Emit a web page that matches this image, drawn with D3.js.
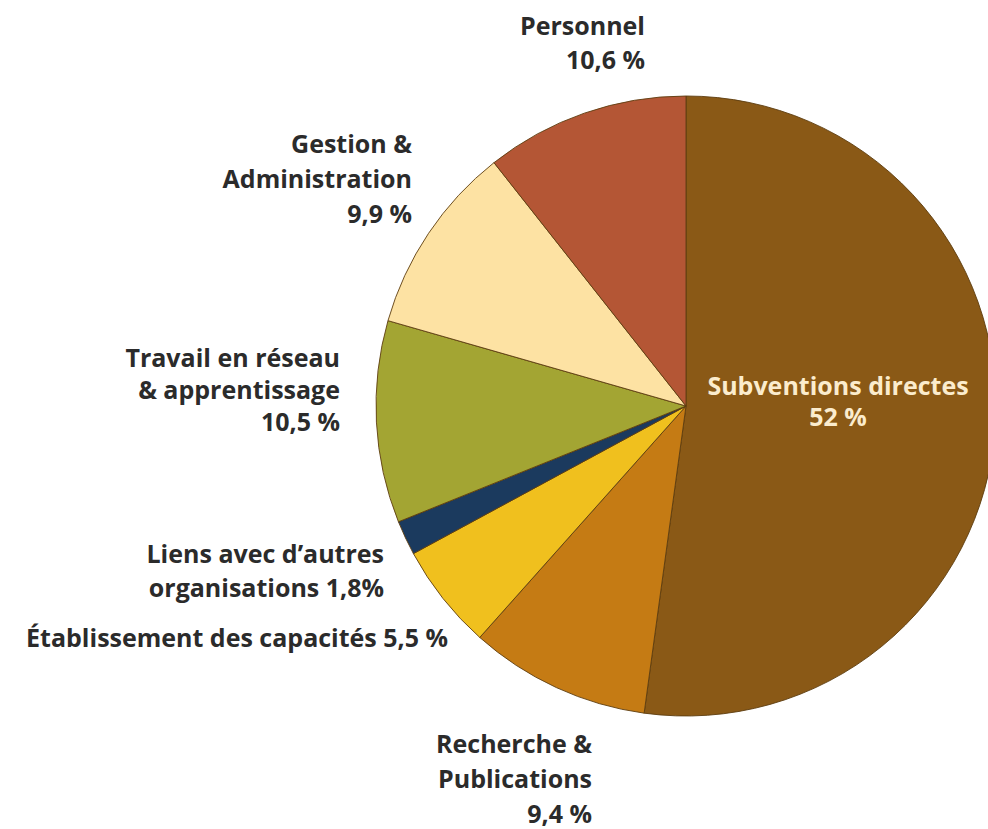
<!DOCTYPE html>
<html>
<head>
<meta charset="utf-8">
<script src="https://cdn.jsdelivr.net/npm/d3@7"></script>
<style>
  html, body { margin: 0; padding: 0; background: #ffffff; }
  svg { display: block; }
  text { font-family: "Open Sans", Lato, sans-serif; font-weight: bold; }
</style>
</head>
<body>
<svg id="chart" width="988" height="829"></svg>
<script>
// Data (clockwise from 12 o'clock)
const categories = [
  "Subventions directes",
  "Recherche & Publications",
  "Établissement des capacités",
  "Liens avec d'autres organisations",
  "Travail en réseau & apprentissage",
  "Gestion & Administration",
  "Personnel"
];
const values = [52, 9.4, 5.5, 1.8, 10.5, 9.9, 10.6];
const labelLines = [
  ["Subventions directes", "52 %"],
  ["Recherche &", "Publications", "9,4 %"],
  ["Établissement des capacités 5,5 %"],
  ["Liens avec d\u2019autres", "organisations 1,8%"],
  ["Travail en réseau", "& apprentissage", "10,5 %"],
  ["Gestion &", "Administration", "9,9 %"],
  ["Personnel", "10,6 %"]
];

// Styles / layout (kept separate from data)
const colors = ["#8a5916", "#c57b14", "#f0c01e", "#1b3a5e", "#a3a533", "#fde2a3", "#b45635"];
const labelLayout = [
  { x: 838, y: 395, anchor: "middle", fill: "#fbeccd", dy: 31 },
  { x: 592, y: 753, anchor: "end", fill: "#2b2b2b", dy: 35 },
  { x: 448, y: 647, anchor: "end", fill: "#2b2b2b", dy: 34 },
  { x: 384, y: 563, anchor: "end", fill: "#2b2b2b", dy: 34 },
  { x: 340, y: 367, anchor: "end", fill: "#2b2b2b", dy: 32 },
  { x: 412, y: 153, anchor: "end", fill: "#2b2b2b", dy: 35 },
  { x: 645, y: 35, anchor: "end", fill: "#2b2b2b", dy: 34 }
];

const cx = 686, cy = 406, R = 310;
const svg = d3.select("#chart");

const pie = d3.pie().sort(null).value(d => d);
const arc = d3.arc().innerRadius(0).outerRadius(R);

const g = svg.append("g").attr("transform", `translate(${cx},${cy})`);
g.selectAll("path")
  .data(pie(values))
  .join("path")
  .attr("d", arc)
  .attr("fill", (d, i) => colors[i])
  .attr("stroke", "#5e3d10")
  .attr("stroke-width", 0.9)
  .attr("stroke-linejoin", "round");

const labels = svg.selectAll("text.lbl")
  .data(labelLines)
  .join("text")
  .attr("class", "lbl")
  .attr("font-size", 25)
  .attr("text-anchor", (d, i) => labelLayout[i].anchor)
  .attr("fill", (d, i) => labelLayout[i].fill)
  .attr("x", (d, i) => labelLayout[i].x)
  .attr("y", (d, i) => labelLayout[i].y);

labels.each(function(lines, i) {
  const L = labelLayout[i];
  d3.select(this).selectAll("tspan")
    .data(lines)
    .join("tspan")
    .attr("x", L.x)
    .attr("dy", (t, j) => j === 0 ? 0 : L.dy)
    .text(t => t);
});
</script>
</body>
</html>
